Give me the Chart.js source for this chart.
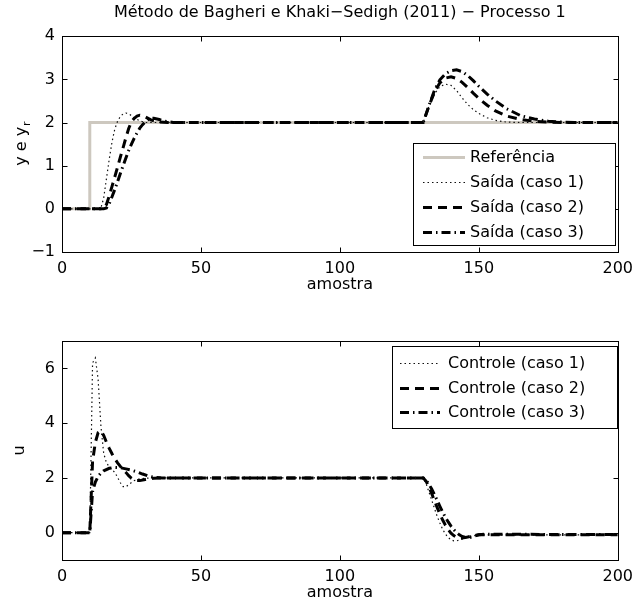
<!DOCTYPE html>
<html lang="pt">
<head>
<meta charset="UTF-8" />
<title>Processo 1</title>
<script src="https://cdn.jsdelivr.net/npm/chart.js"></script>
<style>
  body { margin: 0; background: #fff; }
  #wrap { position: relative; width: 640px; height: 606px; }
  canvas { position: absolute; left: 0; }
</style>
</head>
<body>
<div id="wrap">
  <canvas id="saida" width="640" height="303" style="top:0"></canvas>
  <canvas id="controle" width="640" height="303" style="top:303px"></canvas>
</div>
<script>
// ticks
const xTicks = [0, 50, 100, 150, 200];
const yTicksSaida = [-1, 0, 1, 2, 3, 4];
const yTicksControle = [0, 2, 4, 6];

// referencia
const refX = [0, 10, 10, 200];
const refY = [0, 0, 2, 2];

// saida (y)
const saida1X = [0, 13, 14, 15, 16, 17, 18, 19, 20, 21, 22, 23, 24, 25, 26, 28, 30,
  130, 132, 134, 136, 138, 140, 142, 144, 146, 148, 150, 153, 156, 160, 165, 200];
const saida1Y = [0, 0, 0.02, 0.25, 0.7, 1.15, 1.55, 1.85, 2.03, 2.14, 2.2, 2.22, 2.2, 2.16, 2.11, 2.04, 2.0,
  2.0, 2.36, 2.66, 2.83, 2.89, 2.86, 2.74, 2.57, 2.42, 2.3, 2.21, 2.11, 2.05, 2.01, 2.0, 2.0];

const saida2X = [0, 14, 15, 16, 17, 18, 19, 20, 21, 22, 23, 24, 25, 26, 27, 28, 29, 30, 32, 35, 38,
  130, 132, 134, 136, 138, 140, 142, 144, 146, 148, 150, 153, 156, 160, 165, 170, 175, 180, 200];
const saida2Y = [0, 0, 0.02, 0.1, 0.3, 0.52, 0.74, 0.97, 1.2, 1.42, 1.65, 1.86, 2.02, 2.1, 2.15, 2.17, 2.16, 2.13, 2.06, 2.01, 2.0,
  2.0, 2.37, 2.7, 2.92, 3.03, 3.06, 3.02, 2.93, 2.81, 2.68, 2.56, 2.4, 2.27, 2.15, 2.07, 2.03, 2.01, 2.0, 2.0];

const saida3X = [0, 15, 16, 17, 18, 19, 20, 21, 22, 23, 24, 25, 26, 27, 28, 29, 30, 31, 32, 33, 35, 37, 40,
  130, 132, 134, 136, 138, 140, 142, 144, 146, 148, 150, 153, 156, 160, 165, 170, 175, 180, 185, 200];
const saida3Y = [0, 0, 0.02, 0.12, 0.28, 0.45, 0.63, 0.82, 1.0, 1.18, 1.35, 1.5, 1.64, 1.76, 1.87, 1.95, 2.02, 2.07, 2.1, 2.1, 2.07, 2.03, 2.0,
  2.0, 2.38, 2.74, 2.99, 3.13, 3.2, 3.22, 3.18, 3.09, 2.97, 2.84, 2.66, 2.5, 2.32, 2.16, 2.08, 2.03, 2.01, 2.0, 2.0];

// controle (u)
const ctrl1X = [0, 10, 11, 12, 13, 14, 15, 16, 17, 18, 19, 20, 21, 22, 23, 24, 26, 28, 32,
  130, 131, 132, 133, 134, 135, 136, 137, 138, 139, 140, 141, 142, 143, 145, 147, 150, 200];
const ctrl1Y = [0, 0, 6.2, 6.38, 5.6, 3.9, 2.9, 2.55, 2.4, 2.3, 2.2, 2.02, 1.82, 1.68, 1.67, 1.76, 1.9, 1.97, 2.0,
  2.0, 1.8, 1.5, 1.2, 0.9, 0.6, 0.35, 0.12, -0.05, -0.18, -0.26, -0.3, -0.3, -0.27, -0.2, -0.13, -0.08, -0.08];

const ctrl2X = [0, 10, 11, 12, 13, 14, 15, 16, 17, 18, 19, 20, 21, 22, 23, 24, 25, 26, 27, 28, 30, 33, 36,
  130, 131, 132, 133, 134, 135, 136, 137, 138, 139, 140, 141, 142, 143, 144, 146, 148, 150, 200];
const ctrl2Y = [0, 0, 2.6, 3.3, 3.65, 3.72, 3.55, 3.3, 3.08, 2.88, 2.7, 2.55, 2.42, 2.3, 2.2, 2.08, 1.98, 1.92, 1.9, 1.9, 1.94, 1.99, 2.0,
  2.0, 1.88, 1.68, 1.44, 1.18, 0.92, 0.68, 0.46, 0.27, 0.11, -0.02, -0.11, -0.17, -0.2, -0.2, -0.16, -0.11, -0.08, -0.08];

const ctrl3X = [0, 10, 11, 12, 13, 14, 15, 17, 19, 21, 23, 25, 27, 29, 31, 33, 36,
  130, 131, 132, 133, 134, 135, 136, 137, 138, 139, 140, 141, 142, 143, 144, 145, 146, 147, 148, 150, 152, 200];
const ctrl3Y = [0, 0, 1.5, 1.85, 2.05, 2.18, 2.26, 2.35, 2.38, 2.37, 2.33, 2.28, 2.22, 2.14, 2.07, 2.02, 2.0,
  2.0, 1.92, 1.78, 1.6, 1.4, 1.18, 0.96, 0.75, 0.56, 0.39, 0.24, 0.11, 0.0, -0.08, -0.14, -0.17, -0.18, -0.17, -0.14, -0.08, -0.06, -0.07];

const fonte = { family: '"DejaVu Sans", sans-serif', size: 16 };
const fonteCss = '16px "DejaVu Sans", sans-serif';

const estiloRef = { borderColor: '#cdc8bf', borderWidth: 3, borderDash: [] };
const estilo1 = { borderColor: '#111', borderWidth: 1.2, borderDash: [1.5, 3] };
const estilo2 = { borderColor: '#000', borderWidth: 3, borderDash: [9, 6] };
const estilo3 = { borderColor: '#000', borderWidth: 3, borderDash: [9, 4, 1.5, 4] };

function pontos(xs, ys) {
  return xs.map((x, i) => ({ x: x, y: ys[i] }));
}

function linha(label, xs, ys, estilo, ordem) {
  return Object.assign({
    label: label,
    data: pontos(xs, ys),
    pointRadius: 0,
    tension: 0,
    fill: false,
    order: ordem
  }, estilo);
}

function eixoX(altura, padTitulo) {
  return {
    type: 'linear', min: 0, max: 200,
    afterBuildTicks: s => { s.ticks = xTicks.map(v => ({ value: v })); },
    afterFit: s => { s.height = altura; },
    grid: { display: false, drawTicks: false },
    border: { display: false },
    ticks: { font: fonte, color: '#000', padding: 7, maxRotation: 0, autoSkip: false },
    title: { display: true, text: 'amostra', font: fonte, color: '#000', padding: { top: 0, bottom: padTitulo } }
  };
}

function eixoY(min, max, valores, titulo) {
  return {
    type: 'linear', min: min, max: max,
    afterBuildTicks: s => { s.ticks = valores.map(v => ({ value: v })); },
    afterFit: s => { s.width = 62; },
    grid: { display: false, drawTicks: false },
    border: { display: false },
    ticks: { font: fonte, color: '#000', padding: 7, autoSkip: false,
      callback: v => String(v).replace('-', '\u2212') },
    title: titulo
      ? { display: true, text: titulo, font: fonte, color: '#000', padding: { top: 10, bottom: 0 } }
      : { display: false }
  };
}

// caixa e ticks para dentro, estilo matlab
const moldura = {
  id: 'moldura',
  afterDatasetsDraw(chart) {
    const { ctx, chartArea: a, scales } = chart;
    const l = Math.round(a.left) + 0.5, r = Math.round(a.right) + 0.5;
    const t = Math.round(a.top) + 0.5, b = Math.round(a.bottom) + 0.5;
    ctx.save();
    ctx.strokeStyle = '#000';
    ctx.lineWidth = 1;
    ctx.setLineDash([]);
    ctx.strokeRect(l, t, r - l, b - t);
    ctx.beginPath();
    scales.x.ticks.forEach(tk => {
      const px = Math.round(scales.x.getPixelForValue(tk.value)) + 0.5;
      ctx.moveTo(px, b); ctx.lineTo(px, b - 5);
      ctx.moveTo(px, t); ctx.lineTo(px, t + 5);
    });
    scales.y.ticks.forEach(tk => {
      const py = Math.round(scales.y.getPixelForValue(tk.value)) + 0.5;
      ctx.moveTo(l, py); ctx.lineTo(l + 5, py);
      ctx.moveTo(r, py); ctx.lineTo(r - 5, py);
    });
    ctx.stroke();
    ctx.restore();
  }
};

const caixaLegenda = {
  id: 'caixaLegenda',
  afterDraw(chart, args, o) {
    const ctx = chart.ctx;
    ctx.save();
    ctx.fillStyle = '#fff';
    ctx.fillRect(o.x, o.y, o.w, o.h);
    ctx.strokeStyle = '#000';
    ctx.lineWidth = 1;
    ctx.strokeRect(o.x + 0.5, o.y + 0.5, o.w, o.h);
    ctx.font = fonteCss;
    ctx.textBaseline = 'middle';
    chart.data.datasets.forEach((ds, i) => {
      const y = Math.round(o.y + o.first + i * o.step) + 0.5;
      ctx.setLineDash(ds.borderDash || []);
      ctx.lineWidth = ds.borderWidth;
      ctx.strokeStyle = ds.borderColor;
      ctx.beginPath();
      ctx.moveTo(o.x + o.l0, y);
      ctx.lineTo(o.x + o.l1, y);
      ctx.stroke();
      ctx.setLineDash([]);
      ctx.fillStyle = '#000';
      ctx.fillText(ds.label, o.x + o.tx, y);
    });
    ctx.restore();
  }
};

// "y e y_r" com subscrito
const rotuloY = {
  id: 'rotuloY',
  afterDraw(chart, args, o) {
    if (!o.text) return;
    const ctx = chart.ctx;
    const a = chart.chartArea;
    ctx.save();
    ctx.translate(o.x, (a.top + a.bottom) / 2);
    ctx.rotate(-Math.PI / 2);
    ctx.fillStyle = '#000';
    ctx.textBaseline = 'alphabetic';
    ctx.font = fonteCss;
    const w = ctx.measureText(o.text).width;
    ctx.font = '11px "DejaVu Sans", sans-serif';
    const ws = ctx.measureText(o.sub).width;
    const x0 = -(w + ws) / 2;
    ctx.font = fonteCss;
    ctx.fillText(o.text, x0, 5);
    ctx.font = '11px "DejaVu Sans", sans-serif';
    ctx.fillText(o.sub, x0 + w + 1, 9);
    ctx.restore();
  }
};

new Chart(document.getElementById('saida'), {
  type: 'line',
  data: {
    datasets: [
      linha('Referência', refX, refY, estiloRef, 4),
      linha('Saída (caso 1)', saida1X, saida1Y, estilo1, 3),
      linha('Saída (caso 2)', saida2X, saida2Y, estilo2, 2),
      linha('Saída (caso 3)', saida3X, saida3Y, estilo3, 1)
    ]
  },
  options: {
    responsive: false,
    animation: false,
    layout: { padding: { left: 0, right: 19, top: 0, bottom: 0 } },
    plugins: {
      legend: { display: false },
      tooltip: { enabled: false },
      title: {
        display: true,
        text: 'Método de Bagheri e Khaki\u2212Sedigh (2011) \u2212 Processo 1',
        font: { family: fonte.family, size: 16, weight: 'normal' },
        color: '#000',
        padding: { top: 3, bottom: 14 },
        fullSize: false
      },
      caixaLegenda: { x: 413, y: 143, w: 202, h: 102, first: 14, step: 25, l0: 10, l1: 52, tx: 57 },
      rotuloY: { text: 'y e y', sub: 'r', x: 21 }
    },
    scales: {
      x: eixoX(51, 9),
      y: eixoY(-1, 4, yTicksSaida, null)
    }
  },
  plugins: [moldura, caixaLegenda, rotuloY]
});

new Chart(document.getElementById('controle'), {
  type: 'line',
  data: {
    datasets: [
      linha('Controle (caso 1)', ctrl1X, ctrl1Y, estilo1, 3),
      linha('Controle (caso 2)', ctrl2X, ctrl2Y, estilo2, 2),
      linha('Controle (caso 3)', ctrl3X, ctrl3Y, estilo3, 1)
    ]
  },
  options: {
    responsive: false,
    animation: false,
    layout: { padding: { left: 0, right: 19, top: 38, bottom: 0 } },
    plugins: {
      legend: { display: false },
      tooltip: { enabled: false },
      title: { display: false },
      caixaLegenda: { x: 392, y: 43, w: 225, h: 82, first: 17, step: 24.5, l0: 8, l1: 48, tx: 56 },
      rotuloY: { text: '' }
    },
    scales: {
      x: eixoX(46, 4),
      y: eixoY(-1, 7, yTicksControle, 'u')
    }
  },
  plugins: [moldura, caixaLegenda, rotuloY]
});
</script>
</body>
</html>
